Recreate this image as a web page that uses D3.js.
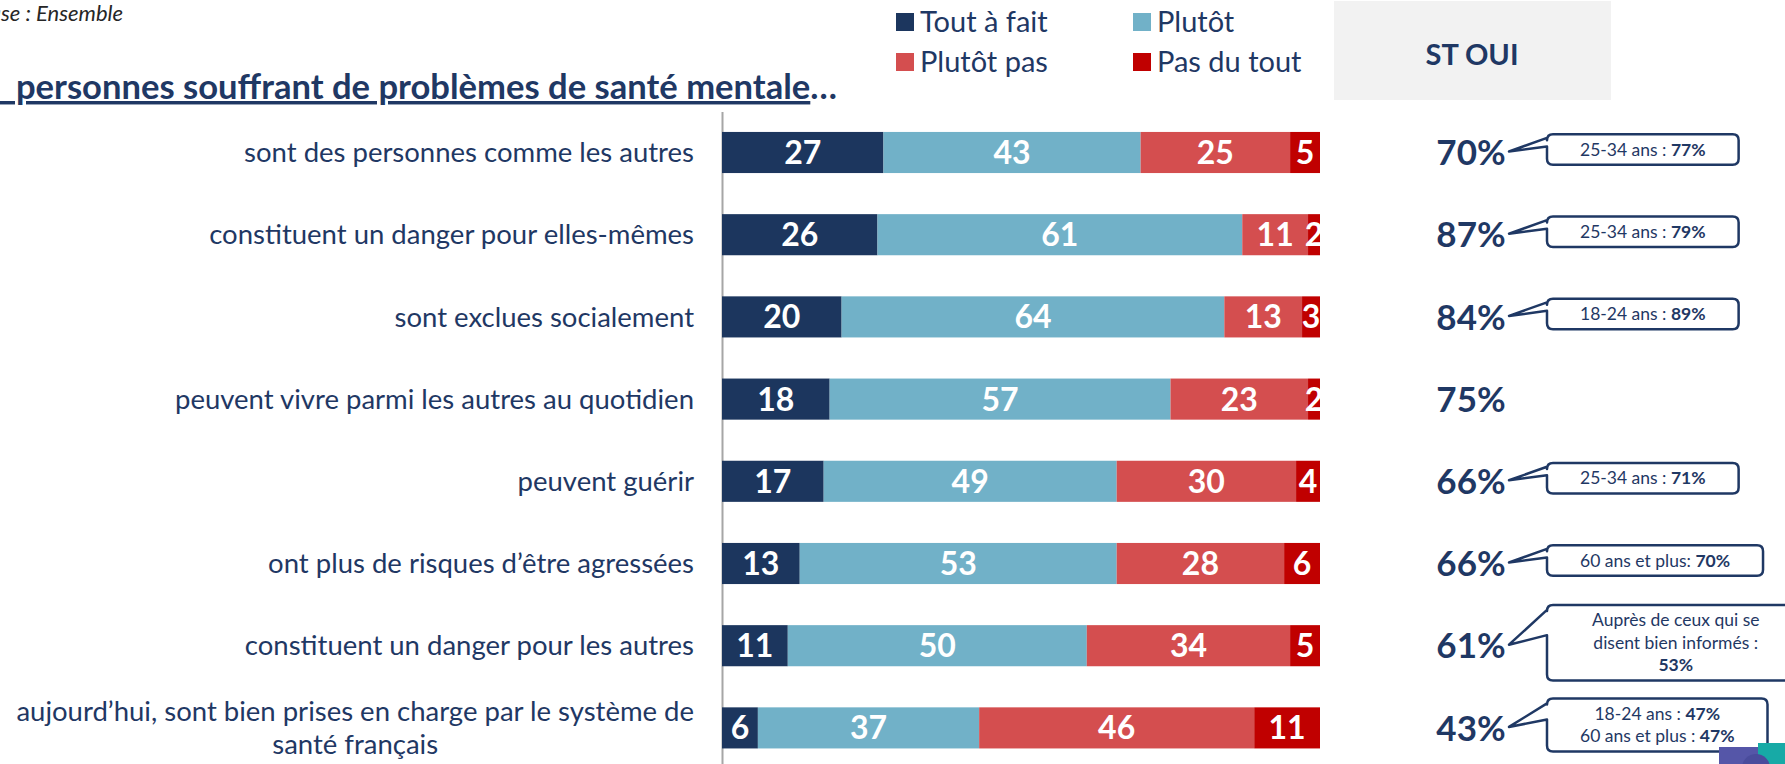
<!DOCTYPE html>
<html>
<head>
<meta charset="utf-8">
<script src="https://cdn.jsdelivr.net/npm/d3@7"></script>
<style>
  body { margin: 0; background: #fff; }
  svg { display: block; font-family: Lato, "Open Sans", sans-serif; }
</style>
</head>
<body>
<svg id="chart" width="1785" height="764"></svg>
<script>
const categories = [
    "sont des personnes comme les autres",
    "constituent un danger pour elles-mêmes",
    "sont exclues socialement",
    "peuvent vivre parmi les autres au quotidien",
    "peuvent guérir",
    "ont plus de risques d’être agressées",
    "constituent un danger pour les autres",
    "aujourd’hui, sont bien prises en charge par le système de\nsanté français"
];
const seriesNames = ["Tout à fait", "Plutôt", "Plutôt pas", "Pas du tout"];
const toutAFait = [27, 26, 20, 18, 17, 13, 11, 6];
const plutot = [43, 61, 64, 57, 49, 53, 50, 37];
const plutotPas = [25, 11, 13, 23, 30, 28, 34, 46];
const pasDuTout = [5, 2, 3, 2, 4, 6, 5, 11];
const stOui = [70, 87, 84, 75, 66, 66, 61, 43];
// callout lines: [normal text, bold text]
const callouts = [
    { row: 0, lines: [["25-34 ans : ", "77%"]] },
    { row: 1, lines: [["25-34 ans : ", "79%"]] },
    { row: 2, lines: [["18-24 ans : ", "89%"]] },
    { row: 4, lines: [["25-34 ans : ", "71%"]] },
    { row: 5, lines: [["60 ans et plus: ", "70%"]] },
    { row: 6, lines: [["Auprès de ceux qui se", ""], ["disent bien informés :", ""], ["", "53%"]] },
    { row: 7, lines: [["18-24 ans : ", "47%"], ["60 ans et plus : ", "47%"]] }
];

const colors = ["#1c365e", "#71b1c8", "#d44e4f", "#c00000"];
const navy = "#1f3864";
const svg = d3.select("#chart");

const rows = categories.map((c, i) => ({
    cat: c,
    values: [toutAFait[i], plutot[i], plutotPas[i], pasDuTout[i]]
}));
const stack = d3.stack().keys([0, 1, 2, 3]).value((d, k) => d.values[k])(rows);

const x = d3.scaleLinear().domain([0, 100]).range([722, 1320]);
const y = d3.scaleBand().domain(categories).range([111.4, 769])
    .paddingInner(0.5).paddingOuter(0.25);

// header texts (cut at the left edge, as in the slide)
svg.append("text")
    .attr("x", 123).attr("y", 21)
    .attr("text-anchor", "end")
    .style("font-size", "22px").style("font-style", "italic")
    .attr("fill", "#262626")
    .text("Base : Ensemble");

const title = svg.append("text")
    .attr("x", 837).attr("y", 99)
    .attr("text-anchor", "end")
    .style("font-size", "34.6px").style("font-weight", "bold")
    .style("white-space", "pre")
    .attr("fill", navy);
title.append("tspan").style("text-decoration", "underline")
    .text("    personnes souffrant de problèmes de santé mentale");
title.append("tspan").text("…");

// legend
const legendPos = [[896, 32], [1133, 32], [896, 72], [1133, 72]];
seriesNames.forEach((name, i) => {
    const g = svg.append("g").attr("transform", `translate(${legendPos[i][0]},${legendPos[i][1]})`);
    g.append("rect").attr("x", 0).attr("y", -19).attr("width", 18).attr("height", 18).attr("fill", colors[i]);
    g.append("text").attr("x", 24).attr("y", 0)
        .style("font-size", "29px").attr("fill", navy).text(name);
});

// ST OUI header
svg.append("rect").attr("x", 1334).attr("y", 1).attr("width", 277).attr("height", 99).attr("fill", "#f2f2f2");
svg.append("text").attr("x", 1472).attr("y", 65)
    .attr("text-anchor", "middle")
    .style("font-size", "29px").style("font-weight", "bold")
    .attr("fill", navy).text("ST OUI");

// axis line
svg.append("g")
    .attr("transform", `translate(${x(0)},0)`)
    .call(d3.axisLeft(y).tickSize(0).tickFormat(""))
    .call(g => g.select(".domain").attr("stroke", "#a6a6a6").attr("stroke-width", 2));

// bars
const layers = svg.append("g").selectAll("g")
    .data(stack)
    .join("g")
    .attr("fill", (d, i) => colors[i]);

layers.selectAll("rect")
    .data(d => d)
    .join("rect")
    .attr("x", d => x(d[0]))
    .attr("y", d => y(d.data.cat))
    .attr("width", d => x(d[1]) - x(d[0]))
    .attr("height", y.bandwidth());

layers.selectAll("text")
    .data(d => d)
    .join("text")
    .attr("x", d => (x(d[0]) + x(d[1])) / 2)
    .attr("y", d => y(d.data.cat) + y.bandwidth() / 2)
    .attr("dy", "0.36em")
    .attr("text-anchor", "middle")
    .attr("fill", "#fff")
    .style("font-size", "32px").style("font-weight", "bold")
    .text(d => d[1] - d[0]);

// category labels
const labelX = 694;
categories.forEach(c => {
    const lines = c.split("\n");
    const cy = y(c) + y.bandwidth() / 2;
    const t = svg.append("text")
        .attr("fill", navy)
        .style("font-size", "27.5px");
    if (lines.length === 1) {
        t.attr("x", labelX).attr("y", cy).attr("dy", "0.35em")
            .attr("text-anchor", "end").text(c);
    } else {
        const first = t.append("tspan").text(lines[0]);
        const w = first.node().getComputedTextLength();
        const cx = labelX - w / 2;
        t.attr("text-anchor", "middle");
        lines.forEach((l, j) => {
            const ts = j === 0 ? first : t.append("tspan").text(l);
            ts.attr("x", cx).attr("y", cy + (j - (lines.length - 1) / 2) * 33).attr("dy", "0.35em");
        });
    }
});

// ST OUI values
svg.append("g").selectAll("text")
    .data(stOui)
    .join("text")
    .attr("x", 1471)
    .attr("y", (d, i) => y(categories[i]) + y.bandwidth() / 2)
    .attr("dy", "0.36em")
    .attr("text-anchor", "middle")
    .attr("fill", navy)
    .style("font-size", "35px").style("font-weight", "bold")
    .text(d => d + "%");

// callouts
function calloutPath(x0, y0, x1, y1, tx, ty, a0, a1) {
    const r = 6;
    return `M${x0},${y0 + r} Q${x0},${y0} ${x0 + r},${y0}
        L${x1 - r},${y0} Q${x1},${y0} ${x1},${y0 + r}
        L${x1},${y1 - r} Q${x1},${y1} ${x1 - r},${y1}
        L${x0 + r},${y1} Q${x0},${y1} ${x0},${y1 - r}
        L${x0},${a1} L${tx},${ty} L${x0},${a0} Z`;
}

const boxX = 1547, lineH = 22.5;
callouts.forEach(c => {
    const cy = y(categories[c.row]) + y.bandwidth() / 2;
    const n = c.lines.length;
    const h = n * lineH + 8;
    const top = cy - 3 - h / 2;
    const pad = n > 2 ? 45 : 33;
    const g = svg.append("g");
    const path = g.append("path");
    const t = g.append("text")
        .attr("text-anchor", "middle")
        .attr("fill", navy)
        .style("font-size", "17.5px");
    const spans = c.lines.map((l, j) => {
        const ts = t.append("tspan")
            .attr("y", top + 4 + lineH * (j + 0.5))
            .attr("dy", "0.35em");
        ts.append("tspan").text(l[0]);
        ts.append("tspan").style("font-weight", "bold").text(l[1]);
        return ts;
    });
    const w = d3.max(spans, s => s.node().getComputedTextLength());
    const bw = w + 2 * pad;
    spans.forEach(s => s.attr("x", boxX + bw / 2));
    const tipY = cy - 1;
    const a0 = top + Math.min(5, h * 0.12);
    const a1 = top + Math.max(12, h * 0.4);
    path.attr("d", calloutPath(boxX, top, boxX + bw, top + h, 1509, tipY, a0, a1))
        .attr("fill", "#fff")
        .attr("stroke", navy)
        .attr("stroke-width", 2.5)
        .attr("stroke-linejoin", "round");
});

// corner logo fragment
svg.append("rect").attr("x", 1719).attr("y", 747).attr("width", 42).attr("height", 17).attr("fill", "#5556a8");
svg.append("rect").attr("x", 1758).attr("y", 743).attr("width", 27).attr("height", 21).attr("fill", "#17aaa6");
svg.append("circle").attr("cx", 1756).attr("cy", 768).attr("r", 14).attr("fill", "#4a4c9c");
</script>
</body>
</html>
